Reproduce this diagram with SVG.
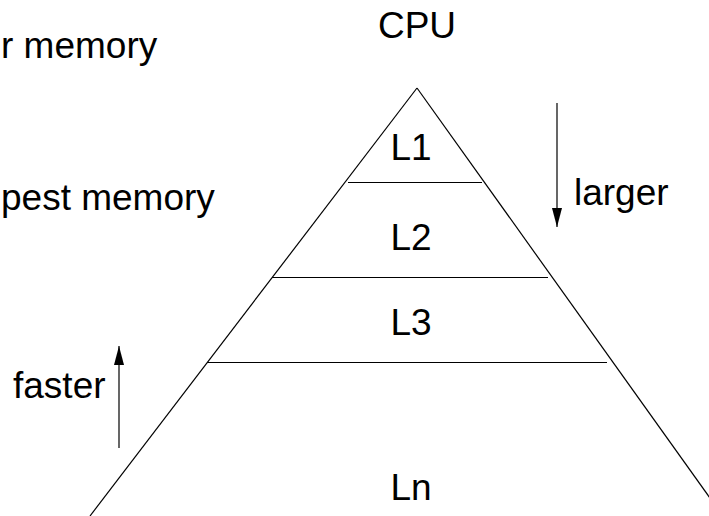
<svg xmlns="http://www.w3.org/2000/svg" width="709" height="516" viewBox="0 0 709 516">
  <style>
    .lbl { font-family: "Liberation Sans", Arial, sans-serif; font-size: 37px; fill: #000; }
    .edge { stroke: #000; stroke-width: 1.2; fill: none; }
  </style>
  <defs>
    <marker id="head" markerWidth="19" markerHeight="10" refX="19" refY="5" orient="auto" markerUnits="userSpaceOnUse" viewBox="0 0 19 10">
      <path d="M0,0 L19,5 L0,10 Z" fill="#000"/>
    </marker>
  </defs>
  <rect width="709" height="516" fill="#fff"/>

  <!-- pyramid outline and level dividers -->
  <g id="pyramid">
    <line class="edge" x1="417" y1="88" x2="90" y2="516"/>
    <line class="edge" x1="417" y1="88" x2="720" y2="512"/>
    <line class="edge" x1="348" y1="182.5" x2="482" y2="182.5"/>
    <line class="edge" x1="272" y1="277.5" x2="548" y2="277.5"/>
    <line class="edge" x1="207" y1="362.5" x2="607" y2="362.5"/>
  </g>

  <g id="cpu"><text class="lbl" x="417" y="38" text-anchor="middle">CPU</text></g>
  <g id="l1"><text class="lbl" x="411" y="160" text-anchor="middle">L1</text></g>
  <g id="l2"><text class="lbl" x="411" y="250" text-anchor="middle">L2</text></g>
  <g id="l3"><text class="lbl" x="411" y="335" text-anchor="middle">L3</text></g>
  <g id="ln"><text class="lbl" x="411" y="500" text-anchor="middle">Ln</text></g>

  <g id="side-labels">
    <text class="lbl" x="1" y="58">r memory</text>
    <text class="lbl" x="1" y="210">pest memory</text>
    <text class="lbl" x="574" y="205">larger</text>
    <text class="lbl" x="13" y="398">faster</text>
  </g>

  <!-- direction arrows -->
  <g id="connectors">
    <line class="edge" x1="557" y1="103" x2="557" y2="227" marker-end="url(#head)"/>
    <line class="edge" x1="119" y1="448" x2="119" y2="346" marker-end="url(#head)"/>
  </g>
</svg>
